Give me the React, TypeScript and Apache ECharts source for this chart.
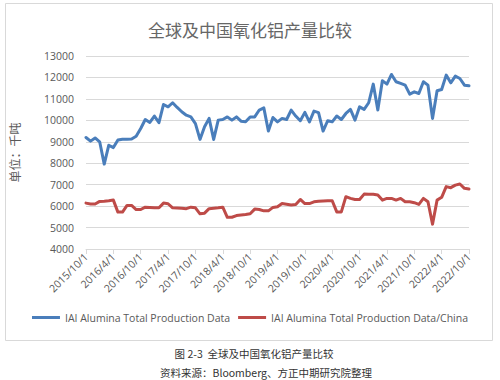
import React, { useEffect, useRef } from "react";
import * as echarts from "echarts";

const months: string[] = [
  "2015/10/1", "2015/11/1", "2015/12/1",
  "2016/1/1", "2016/2/1", "2016/3/1", "2016/4/1", "2016/5/1", "2016/6/1", "2016/7/1", "2016/8/1", "2016/9/1", "2016/10/1", "2016/11/1", "2016/12/1",
  "2017/1/1", "2017/2/1", "2017/3/1", "2017/4/1", "2017/5/1", "2017/6/1", "2017/7/1", "2017/8/1", "2017/9/1", "2017/10/1", "2017/11/1", "2017/12/1",
  "2018/1/1", "2018/2/1", "2018/3/1", "2018/4/1", "2018/5/1", "2018/6/1", "2018/7/1", "2018/8/1", "2018/9/1", "2018/10/1", "2018/11/1", "2018/12/1",
  "2019/1/1", "2019/2/1", "2019/3/1", "2019/4/1", "2019/5/1", "2019/6/1", "2019/7/1", "2019/8/1", "2019/9/1", "2019/10/1", "2019/11/1", "2019/12/1",
  "2020/1/1", "2020/2/1", "2020/3/1", "2020/4/1", "2020/5/1", "2020/6/1", "2020/7/1", "2020/8/1", "2020/9/1", "2020/10/1", "2020/11/1", "2020/12/1",
  "2021/1/1", "2021/2/1", "2021/3/1", "2021/4/1", "2021/5/1", "2021/6/1", "2021/7/1", "2021/8/1", "2021/9/1", "2021/10/1", "2021/11/1", "2021/12/1",
  "2022/1/1", "2022/2/1", "2022/3/1", "2022/4/1", "2022/5/1", "2022/6/1", "2022/7/1", "2022/8/1", "2022/9/1", "2022/10/1",
];

const worldProduction: number[] = [
  9200, 9030, 9180, 9000, 7960, 8840, 8730, 9080, 9120, 9120,
  9130, 9260, 9620, 10040, 9900, 10200, 9890, 10740, 10630, 10820,
  10600, 10400, 10240, 10160, 9850, 9110, 9700, 10090, 9110, 10010,
  10040, 10160, 10010, 10160, 9960, 9930, 10160, 10160, 10480, 10580,
  9500, 10130, 9930, 10090, 10040, 10480, 10200, 9980, 10370, 9930,
  10430, 10360, 9500, 9980, 9930, 10200, 10040, 10320, 10510, 10010,
  10630, 10510, 10820, 11690, 10480, 11850, 11690, 12140, 11800, 11720,
  11640, 11220, 11330, 11250, 11800, 11640, 10090, 11380, 11440, 12110,
  11750, 12060, 11950, 11640, 11610,
];

const chinaProduction: number[] = [
  6140, 6100, 6100, 6220, 6230, 6250, 6280, 5720, 5720, 6030,
  6030, 5840, 5840, 5950, 5940, 5920, 5920, 6140, 6110, 5920,
  5910, 5900, 5880, 5950, 5920, 5640, 5670, 5880, 5900, 5920,
  5950, 5480, 5480, 5560, 5590, 5610, 5640, 5860, 5840, 5780,
  5780, 5940, 5970, 6120, 6090, 6050, 6080, 6310, 6120, 6120,
  6200, 6230, 6240, 6250, 6250, 5730, 5730, 6440, 6360, 6310,
  6310, 6560, 6550, 6550, 6520, 6280, 6360, 6360, 6280, 6360,
  6200, 6200, 6160, 6080, 6360, 6200, 5160, 6280, 6410, 6910,
  6860, 6980, 7030, 6830, 6800,
];

const seriesNames: string[] = [
  "IAI Alumina Total Production Data",
  "IAI Alumina Total Production Data/China",
];

const titleText = "全球及中国氧化铝产量比较";
const yAxisName = "单位：千吨";
const captionLines: string[] = [
  "图 2-3  全球及中国氧化铝产量比较",
  "资料来源：Bloomberg、方正中期研究院整理",
];

const CJK = '"Noto Sans CJK SC", "Noto Sans", sans-serif';
const LATIN = '"Open Sans", "Noto Sans", sans-serif';

export default function App() {
  const ref = useRef<HTMLDivElement>(null);

  useEffect(() => {
    if (!ref.current) return;
    const chart = echarts.init(ref.current, undefined, { renderer: "svg" });
    chart.setOption({
      animation: false,
      backgroundColor: "#ffffff",
      title: {
        text: titleText,
        left: "center",
        top: 16,
        textStyle: { fontFamily: CJK, fontSize: 17, fontWeight: "normal", color: "#666666" },
      },
      grid: { left: 86, right: 31, top: 56, bottom: 131 },
      legend: {
        bottom: 52,
        left: "center",
        icon: "rect",
        itemWidth: 28,
        itemHeight: 3,
        itemGap: 8,
        textStyle: { fontFamily: LATIN, fontSize: 10.5, color: "#595959" },
        data: seriesNames,
      },
      xAxis: {
        type: "category",
        data: months,
        boundaryGap: false,
        axisLine: { lineStyle: { color: "#d9d9d9" } },
        axisTick: { show: true, interval: 5, length: 5, lineStyle: { color: "#d9d9d9" } },
        axisLabel: {
          interval: 5,
          rotate: 45,
          margin: 6,
          fontFamily: LATIN,
          fontSize: 10.5,
          color: "#595959",
        },
      },
      yAxis: {
        type: "value",
        min: 4000,
        max: 13000,
        interval: 1000,
        name: yAxisName,
        nameLocation: "middle",
        nameRotate: 90,
        nameGap: 66,
        nameTextStyle: { fontFamily: CJK, fontSize: 12, color: "#595959" },
        axisLine: { show: false },
        axisTick: { show: false },
        axisLabel: {
          margin: 12,
          fontFamily: LATIN,
          fontSize: 10.5,
          color: "#595959",
          formatter: (v: number) => String(v),
        },
        splitLine: { lineStyle: { color: "#d9d9d9" } },
      },
      series: [
        {
          name: seriesNames[0],
          type: "line",
          data: worldProduction,
          showSymbol: false,
          symbol: "none",
          itemStyle: { color: "#4a7ebb" },
          lineStyle: { color: "#4a7ebb", width: 3, cap: "round", join: "round" },
        },
        {
          name: seriesNames[1],
          type: "line",
          data: chinaProduction,
          showSymbol: false,
          symbol: "none",
          itemStyle: { color: "#be4b48" },
          lineStyle: { color: "#be4b48", width: 3, cap: "round", join: "round" },
        },
      ],
      graphic: [
        {
          type: "rect",
          silent: true,
          shape: { x: 5.5, y: 3.5, width: 487, height: 337 },
          style: { fill: "none", stroke: "#d9d9d9", lineWidth: 1 },
          z: -1,
        },
        {
          type: "text",
          x: 254,
          y: 353,
          style: {
            text: captionLines[0],
            align: "center",
            verticalAlign: "middle",
            fontFamily: CJK,
            fontSize: 10.5,
            fill: "#333333",
          },
        },
        {
          type: "text",
          x: 266,
          y: 372,
          style: {
            text: captionLines[1],
            align: "center",
            verticalAlign: "middle",
            fontFamily: CJK,
            fontSize: 10.5,
            fill: "#333333",
          },
        },
      ],
    });
    return () => chart.dispose();
  }, []);

  return (
    <div
      ref={ref}
      style={{ position: "absolute", left: 0, top: 0, width: 500, height: 380 }}
    />
  );
}
